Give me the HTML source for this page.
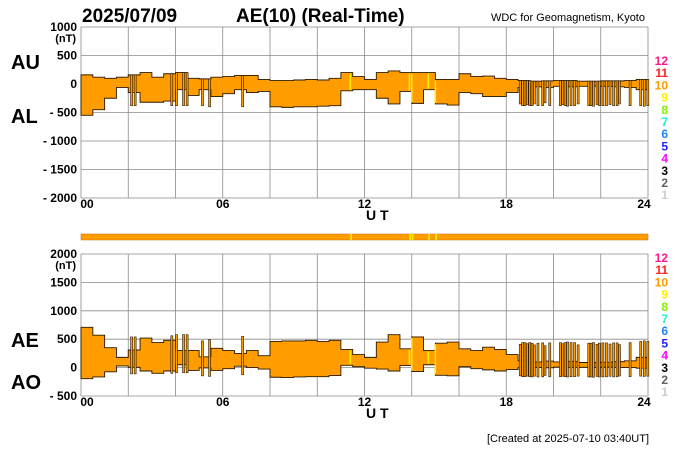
<!DOCTYPE html>
<html><head><meta charset="utf-8"><style>
html,body{margin:0;padding:0;background:#fff;}
svg{display:block;font-family:"Liberation Sans",sans-serif;}
</style></head><body>
<svg id="c" width="700" height="450" xmlns="http://www.w3.org/2000/svg">
<text x="82" y="22" font-size="19" font-weight="bold">2025/07/09</text>
<text x="236" y="22" font-size="19" font-weight="bold">AE(10) (Real-Time)</text>
<text x="645" y="21" font-size="11" text-anchor="end">WDC for Geomagnetism, Kyoto</text>
<text x="11" y="69" font-size="20" font-weight="bold">AU</text>
<text x="11" y="123" font-size="20" font-weight="bold">AL</text>
<text x="11" y="347" font-size="20" font-weight="bold">AE</text>
<text x="11" y="389" font-size="20" font-weight="bold">AO</text>
<text x="366" y="220" font-size="14" font-weight="bold">U T</text>
<text x="366" y="418" font-size="14" font-weight="bold">U T</text>
<text x="649" y="442" font-size="11" text-anchor="end">[Created at 2025-07-10 03:40UT]</text>
<g id="g"></g>
</svg>
<script>
const hours = [0,0.5,1,1.5,2,2.5,3,3.5,4,4.5,5,5.5,6,6.5,7,7.5,8,8.5,9,9.5,10,10.5,11,11.5,12,12.5,13,13.5,14,14.5,15,15.5,16,16.5,17,17.5,18,18.5,19,19.5,20,20.5,21,21.5,22,22.5,23,23.5];
const au = [160,120,100,120,160,200,120,180,200,100,90,120,130,150,150,80,60,60,70,80,70,100,200,130,80,200,230,200,200,200,80,80,180,130,140,100,80,60,50,55,60,60,50,50,55,55,60,80];
const al = [-550,-450,-250,-60,-150,-320,-320,-300,-100,-200,-100,-220,-170,-100,-150,-130,-400,-410,-400,-400,-390,-380,-120,-100,-100,-250,-350,-130,-340,-100,-350,-370,-150,-170,-220,-220,-150,-60,-50,-60,-40,-50,-40,-40,-40,-50,-60,-100];
const spikeTimes = [2.1,2.25,3.8,4.0,4.3,4.45,5.1,5.4,6.8,18.55,18.65,18.75,18.85,18.95,19.05,19.15,19.3,19.5,19.6,19.8,20.25,20.35,20.45,20.55,20.7,20.85,21.0,21.45,21.55,21.65,21.8,21.9,22.05,22.2,22.35,22.5,22.65,22.75,23.2,23.65,23.8,23.95];
const spikeValues = [-380,-380,-380,-380,-380,-380,-380,-400,-400,-350,-380,-380,-360,-380,-380,-350,-380,-380,-330,-380,-380,-360,-380,-390,-380,-380,-350,-380,-380,-390,-360,-380,-380,-380,-360,-380,-380,-350,-380,-380,-390,-380];
const yellowTimes = [11.4,13.9,14.0,14.7,15.0];
const topTicks = [1000,500,0,-500,-1000,-1500,-2000];
const botTicks = [2000,1500,1000,500,0,-500];
const xTicks = ["00","06","12","18","24"];
const legendLabels = ["12","11","10","9","8","7","6","5","4","3","2","1"];
const legendColors = ["#ff1a8c","#ff2020","#ff9900","#ffee00","#88ee00","#22eecc","#2080ff","#2020ff","#ff00ff","#000000","#606060","#cccccc"];

const NS="http://www.w3.org/2000/svg", G=document.getElementById('g');
function mk(t,a,p){const e=document.createElementNS(NS,t);for(const k in a)e.setAttribute(k,a[k]);(p||G).appendChild(e);return e;}
const X0=81,X1=648;
const x=h=>X0+(X1-X0)*h/24;
const yTop=v=>27+(1000-v)*(171/3000);
const yBot=v=>254+(2000-v)*(142/2500);
const ae=au.map((u,i)=>u-al[i]);
const ao=au.map((u,i)=>(u+al[i])/2);

function panel(name,ys,ticks,hi,lo,upper,lower,spU,spL,yL){
  const g=mk('g',{});
  
  
  for(let h=0;h<=24;h+=2){const l=mk('line',{x1:x(h),x2:x(h),y1:ys(hi),y2:ys(lo),stroke:'#8a8a8a','stroke-width':0.8},g);}
  ticks.forEach(v=>{const l=mk('line',{x1:X0,x2:X1,y1:ys(v),y2:ys(v),stroke:'#8a8a8a','stroke-width':0.8},g);
    const t=mk('text',{x:77,y:ys(v)+4,'font-size':12,'font-weight':'bold','text-anchor':'end'},g);t.textContent=(v<0?'- '+(-v):v);});
  const nt=mk('text',{x:76,y:ys(hi)+15,'font-size':11,'font-weight':'bold','text-anchor':'end'},g);nt.textContent='(nT)';
  xTicks.forEach((s,i)=>{const t=mk('text',{x:x(i*6)+(i==0?6:i==4?-4:0),y:ys(lo)+10,'font-size':12,'font-weight':'bold','text-anchor':'middle'},g);t.textContent=s;});
  let top='',bot='';
  hours.forEach((h,i)=>{const h2=i+1<hours.length?hours[i+1]:24;top+=`L${x(h)},${ys(upper[i])}L${x(h2)},${ys(upper[i])}`;});
  for(let i=hours.length-1;i>=0;i--){const h=hours[i],h2=i+1<hours.length?hours[i+1]:24;bot+=`L${x(h2)},${ys(lower[i])}L${x(h)},${ys(lower[i])}`;}
  const p=mk('path',{d:'M'+top.slice(1)+bot+'Z',fill:'#ff9c00',stroke:'#2a1800','stroke-width':0.9},g);
  
  spikeTimes.forEach((t,k)=>{const i=Math.min(hours.length-1,Math.floor(t*2));
    const r=mk('rect',{x:x(t),y:ys(spU(i,k)),width:2,height:Math.max(0,ys(spL(i,k))-ys(spU(i,k))),fill:'#ff9c00',stroke:'#2a1800','stroke-width':0.6},g);
    });
  yellowTimes.forEach(t=>{const i=Math.floor(t*2);const l=mk('line',{x1:x(t),x2:x(t),y1:ys(upper[i])+1,y2:ys(lower[i])-1,stroke:'#ffee00','stroke-width':1.5},g);});
  legendLabels.forEach((s,k)=>{const t=mk('text',{x:668,y:yL+k*12.2,'font-size':12,'font-weight':'bold','text-anchor':'end',fill:legendColors[k]},g);t.textContent=s;});
}
panel('au-al-panel',yTop,topTicks,1000,-2000,au,al,(i,k)=>au[i],(i,k)=>spikeValues[k],65);
panel('ae-ao-panel',yBot,botTicks,2000,-500,ae,ao,(i,k)=>au[i]-spikeValues[k],(i,k)=>(au[i]+spikeValues[k])/2,262);
const sb=mk('rect',{x:X0,y:234,width:X1-X0,height:6,fill:'#ff9c00',stroke:'#c07000','stroke-width':0.5});

yellowTimes.forEach(t=>{const r=mk('rect',{x:x(t),y:234,width:1.6,height:6,fill:'#ffee00'});});
</script>
</body></html>
